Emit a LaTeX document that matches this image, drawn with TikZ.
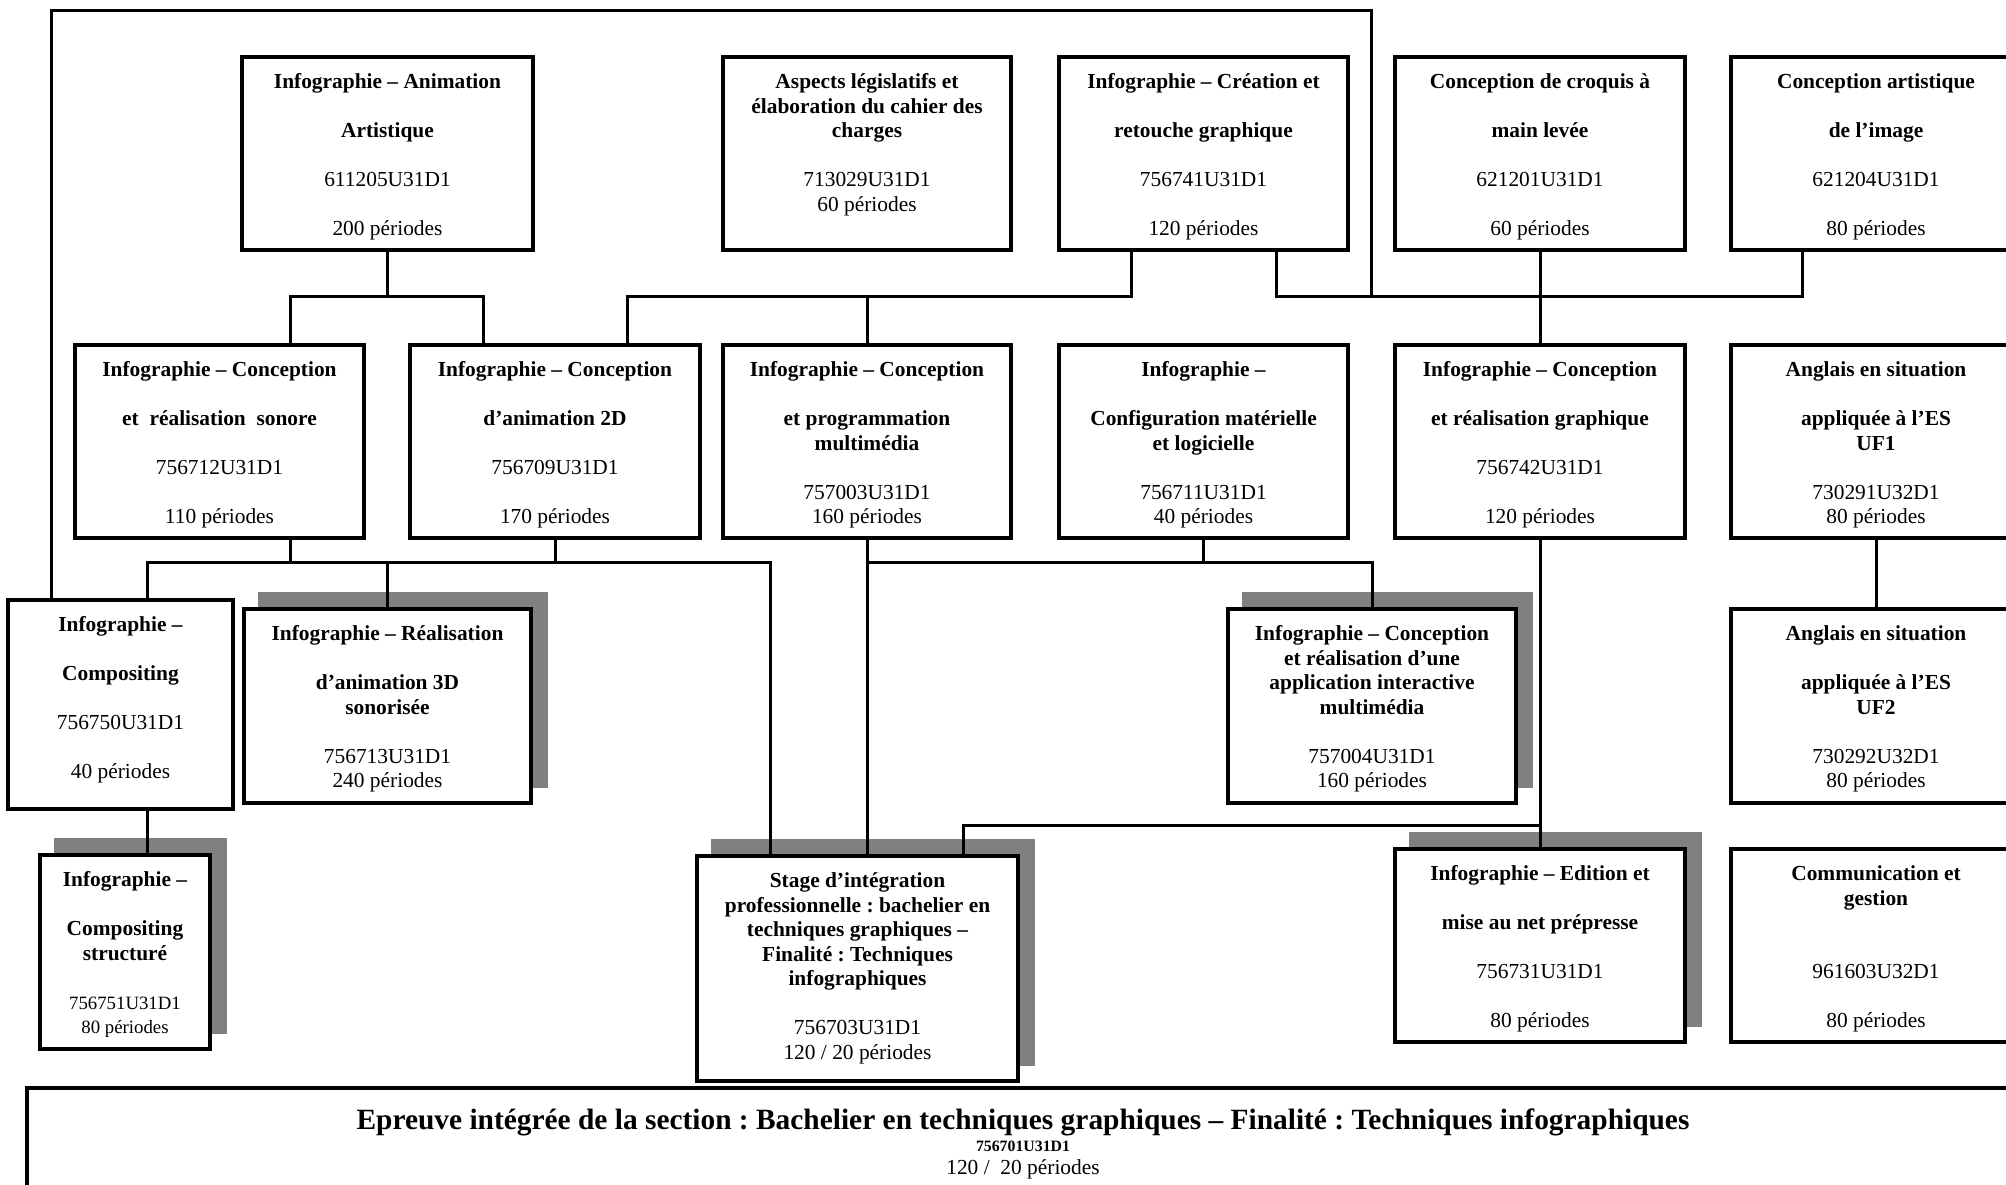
\documentclass[tikz,border=0pt]{standalone}
\usepackage{fontspec}
\setmainfont{Liberation Serif}
\frenchspacing
\definecolor{shadowgray}{RGB}{128,128,128}
\newdimen\px \px=0.5pt
\newcommand{\bl}{\\[12.26pt]}
\newcommand{\ubox}[3]{\parbox[c][#2\px][t]{#1\px}{\centering\fontsize{10.7pt}{12.26pt}\selectfont\rule{0pt}{15.8pt}#3\par}}
\pgfdeclarelayer{back}
\pgfdeclarelayer{links}
\pgfsetlayers{back,links,main}
\tikzset{
  modbox/.style={draw, line width=2pt, fill=white, inner sep=0pt, outer sep=0pt, anchor=north west},
  link/.style={line width=1.5pt},
  greyshadow/.style={fill=shadowgray},
}
\begin{document}
\begin{tikzpicture}[x=0.5pt,y=-0.5pt]
\useasboundingbox (0,0) rectangle (2006,1184);
% row 1
\node[modbox] (A) at (242,57) {\ubox{291}{193}{\textbf{Infographie – Animation}\bl\textbf{Artistique}\bl 611205U31D1\bl 200 périodes}};
\node[modbox] (B) at (723,57) {\ubox{288}{193}{\textbf{Aspects législatifs et}\\\textbf{élaboration du cahier des}\\\textbf{charges}\bl 713029U31D1\\60 périodes}};
\node[modbox] (C) at (1059,57) {\ubox{289}{193}{\textbf{Infographie – Création et}\bl\textbf{retouche graphique}\bl 756741U31D1\bl 120 périodes}};
\node[modbox] (D) at (1395,57) {\ubox{290}{193}{\textbf{Conception de croquis à}\bl\textbf{main levée}\bl 621201U31D1\bl 60 périodes}};
\node[modbox] (E) at (1731,57) {\ubox{290}{193}{\textbf{Conception artistique}\bl\textbf{de l’image}\bl 621204U31D1\bl 80 périodes}};
% row 2
\node[modbox] (F) at (75,345) {\ubox{289}{193}{\textbf{Infographie – Conception}\bl\textbf{et\ \ réalisation\ \ sonore}\bl 756712U31D1\bl 110 périodes}};
\node[modbox] (G) at (410,345) {\ubox{290}{193}{\textbf{Infographie – Conception}\bl\textbf{d’animation 2D}\bl 756709U31D1\bl 170 périodes}};
\node[modbox] (H) at (723,345) {\ubox{288}{193}{\textbf{Infographie – Conception}\bl\textbf{et programmation}\\\textbf{multimédia}\bl 757003U31D1\\160 périodes}};
\node[modbox] (I) at (1059,345) {\ubox{289}{193}{\textbf{Infographie –}\bl\textbf{Configuration matérielle}\\\textbf{et logicielle}\bl 756711U31D1\\40 périodes}};
\node[modbox] (J) at (1395,345) {\ubox{290}{193}{\textbf{Infographie – Conception}\bl\textbf{et réalisation graphique}\bl 756742U31D1\bl 120 périodes}};
\node[modbox] (K) at (1731,345) {\ubox{290}{193}{\textbf{Anglais en situation}\bl\textbf{appliquée à l’ES}\\\textbf{UF1}\bl 730291U32D1\\80 périodes}};
% row 3
\node[modbox] (L) at (8,600) {\ubox{225}{209}{\textbf{Infographie –}\bl\textbf{Compositing}\bl 756750U31D1\bl 40 périodes}};
\node[modbox] (M) at (244,609) {\ubox{287}{194}{\textbf{Infographie – Réalisation}\bl\textbf{d’animation 3D}\\\textbf{sonorisée}\bl 756713U31D1\\240 périodes}};
\node[modbox] (N) at (1228,609) {\ubox{288}{194}{\textbf{Infographie – Conception}\\\textbf{et réalisation d’une}\\\textbf{application interactive}\\\textbf{multimédia}\bl 757004U31D1\\160 périodes}};
\node[modbox] (O) at (1731,609) {\ubox{290}{194}{\textbf{Anglais en situation}\bl\textbf{appliquée à l’ES}\\\textbf{UF2}\bl 730292U32D1\\80 périodes}};
% row 4
\node[modbox] (P) at (40,855) {\ubox{170}{194}{\textbf{Infographie –}\bl\textbf{Compositing}\\\textbf{structuré}\bl{\fontsize{9.4pt}{12.26pt}\selectfont 756751U31D1\\80 périodes}}};
\node[modbox] (Q) at (697,856) {\ubox{321}{225}{\textbf{Stage d’intégration}\\\textbf{professionnelle : bachelier en}\\\textbf{techniques graphiques –}\\\textbf{Finalité : Techniques}\\\textbf{infographiques}\bl 756703U31D1\\120 / 20 périodes}};
\node[modbox] (R) at (1395,849) {\ubox{290}{193}{\textbf{Infographie – Edition et}\bl\textbf{mise au net prépresse}\bl 756731U31D1\bl 80 périodes}};
\node[modbox] (S) at (1731,849) {\ubox{290}{193}{\textbf{Communication et}\\\textbf{gestion}\\[24.52pt]961603U32D1\bl 80 périodes}};
% bottom
\node[modbox] (T) at (27,1088) {\parbox[c][120\px][t]{1992\px}{\centering{\fontsize{14.7pt}{16pt}\selectfont\rule{0pt}{20.6pt}\textbf{Epreuve intégrée de la section : Bachelier en techniques graphiques – Finalité : Techniques infographiques}\par}{\fontsize{7.9pt}{11.3pt}\selectfont\textbf{756701U31D1}\par}{\fontsize{10.7pt}{11.1pt}\selectfont 120 /\ \ 20 périodes\par}}};
% shadows
\begin{pgfonlayer}{back}
\foreach \n in {M,N,P,Q,R}
  \fill[greyshadow] ([shift={(14,-17)}]\n.north west) rectangle ([shift={(17,-15)}]\n.south east);
\end{pgfonlayer}
% junction coordinates
\coordinate (t1) at (51,10);
\coordinate (t2) at (1371,10);
\coordinate (b1) at (290,296);
\coordinate (b2) at (483,296);
\coordinate (b3) at (627,296);
\coordinate (b4) at (1131,296);
\coordinate (b5) at (1276,296);
\coordinate (b6) at (1802,296);
\coordinate (b7) at (1371,296);
\coordinate (m0) at (290,562);
\coordinate (m1) at (147,562);
\coordinate (m2) at (770,562);
\coordinate (q1) at (963,825);
\begin{pgfonlayer}{links}
\draw[link] (A.south) -- (A.south |- b1);
\draw[link] (F.north -| b1) -- (b1) -- (b2) -- (G.north -| b2);
\draw[link] (C.south -| b4) -- (b4) -- (b3) -- (G.north -| b3);
\draw[link] (H.north) -- (H.north |- b3);
\draw[link] (C.south -| b5) -- (b5) -- (b6) -- (E.south -| b6);
\draw[link] (D.south) -- (J.north);
\draw[link] (L.north -| t1) -- (t1) -- (t2) -- (b7);
\draw[link] (F.south -| m0) -- (m0);
\draw[link] (G.south) -- (G.south |- m1);
\draw[link] (L.north -| m1) -- (m1) -- (m2) -- (Q.north -| m2);
\draw[link] (M.north) -- (M.north |- m1);
\draw[link] (H.south) -- (H.south |- Q.north);
\draw[link] (H.south |- m1) -- (N.north |- m1) -- (N.north);
\draw[link] (I.south) -- (I.south |- m1);
\draw[link] (J.south) -- (R.north);
\draw[link] (J.south |- q1) -- (q1) -- (Q.north -| q1);
\draw[link] (K.south) -- (O.north);
\draw[link] (L.south -| m1) -- (P.north -| m1);
\end{pgfonlayer}
\end{tikzpicture}
\end{document}
